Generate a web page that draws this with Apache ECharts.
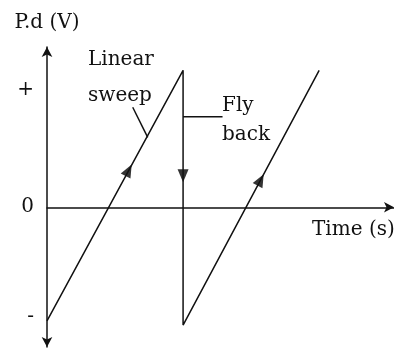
<!DOCTYPE html>
<html>
<head>
<meta charset="utf-8">
<script src="https://cdn.jsdelivr.net/npm/echarts@6/dist/echarts.min.js"></script>
<style>
  html, body { margin: 0; padding: 0; background: #fff; }
  #chart { width: 394px; height: 349px; }
</style>
</head>
<body>
<div id="chart"></div>
<script>
// sawtooth: linear sweep, fly back, linear sweep (time in periods, voltage relative)
const sweepPoints = [[0, -0.83], [1, 1.0], [1, -0.86], [2, 1.0]];
// direction arrows on the trace: [time, voltage, rotation]
const arrowPoints = [[0.6, 0.27, -28], [1, 0.23, 180], [1.57, 0.2, -28]];
// leader lines for the labels
const sweepLeader = [[0.63, 0.73], [0.74, 0.51]];
const flyLeader = [[1, 0.66], [1.29, 0.66]];
// y tick labels
const yTickValues = [0.86, 0, -0.8];
const yTickLabels = ['+', '0', '-'];

const FONT = 'DejaVu Serif';
const INK = '#111';

const chart = echarts.init(document.getElementById('chart'));

const option = {
  animation: false,
  // keep the plot where it is; the axis names are allowed to touch the edge
  grid: { left: 47, right: 0, top: 47, bottom: 2, outerBoundsMode: 'none', containLabel: false },
  xAxis: {
    type: 'value',
    min: 0,
    max: 2.55,
    name: 'Time (s)',
    nameLocation: 'end',
    nameGap: -82,
    nameTextStyle: {
      fontFamily: FONT, fontSize: 20, color: INK,
      align: 'left', verticalAlign: 'top', padding: [13, 0, 0, 0]
    },
    axisLine: {
      onZero: true,
      symbol: ['none', 'arrow'],
      symbolSize: [8, 10],
      lineStyle: { color: INK, width: 1.5 }
    },
    axisTick: { show: false },
    axisLabel: { show: false },
    splitLine: { show: false }
  },
  yAxis: {
    type: 'value',
    min: -1.02,
    max: 1.17,
    name: 'P.d (V)',
    nameLocation: 'end',
    nameGap: 14,
    nameTextStyle: { fontFamily: FONT, fontSize: 20, color: INK, align: 'center' },
    axisLine: {
      show: true,
      symbol: ['arrow', 'arrow'],
      symbolSize: [8, 10],
      lineStyle: { color: INK, width: 1.5 }
    },
    axisTick: { show: false },
    axisLabel: {
      customValues: yTickValues,
      formatter: v => yTickLabels[yTickValues.indexOf(v)],
      fontFamily: FONT, fontSize: 20, color: INK, margin: 13
    },
    splitLine: { show: false }
  },
  graphic: [
    { type: 'text', left: 88, top: 50, style: { text: 'Linear', font: '20px "DejaVu Serif"', fill: INK } },
    { type: 'text', left: 88, top: 86, style: { text: 'sweep', font: '20px "DejaVu Serif"', fill: INK } },
    { type: 'text', left: 222, top: 96, style: { text: 'Fly', font: '20px "DejaVu Serif"', fill: INK } },
    { type: 'text', left: 222, top: 125, style: { text: 'back', font: '20px "DejaVu Serif"', fill: INK } }
  ],
  series: [
    {
      type: 'line',
      data: sweepPoints,
      symbol: 'none',
      lineStyle: { color: INK, width: 1.5 }
    },
    {
      type: 'line',
      data: sweepLeader,
      symbol: 'none',
      lineStyle: { color: INK, width: 1.5 }
    },
    {
      type: 'line',
      data: flyLeader,
      symbol: 'none',
      lineStyle: { color: INK, width: 1.5 }
    },
    {
      type: 'scatter',
      data: arrowPoints.map(p => ({ value: [p[0], p[1]], symbolRotate: p[2] })),
      symbol: 'triangle',
      symbolSize: [11, 13],
      itemStyle: { color: '#000' }
    }
  ]
};

chart.setOption(option);
</script>
</body>
</html>
